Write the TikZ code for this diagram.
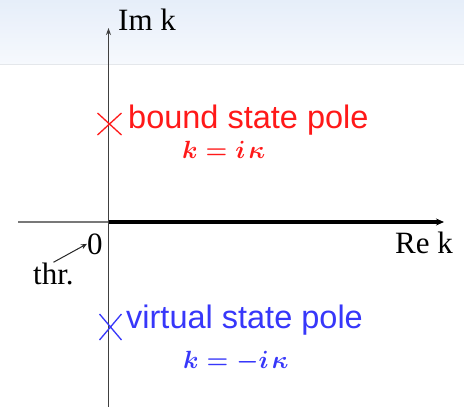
\documentclass[tikz,border=0pt]{standalone}
\usepackage{fontspec}
\setmainfont{Liberation Serif}
\newfontfamily\arialfont{Liberation Sans}
\usetikzlibrary{arrows.meta,calc}
\definecolor{redpole}{RGB}{255,25,25}
\definecolor{bluepole}{RGB}{55,55,250}
\definecolor{bgtop}{RGB}{230,238,249}
\definecolor{bgbot}{RGB}{246,249,253}
\definecolor{axgray}{RGB}{120,120,120}
\tikzset{
  lbl/.style={inner sep=0pt, anchor=base west, font=\fontsize{31}{36}\selectfont},
  poletext/.style={inner sep=0pt, anchor=base west, font=\arialfont\fontsize{32.5}{38}\selectfont},
  polemath/.style={inner sep=0pt, anchor=base west, font=\fontsize{31.5}{36}\selectfont\boldmath},
  cross/.style={line width=1.3pt},
}
\begin{document}
\begin{tikzpicture}[x=1pt,y=-1pt]
\useasboundingbox (0,0) rectangle (464,407);
\fill[white] (0,0) rectangle (464,407);
\shade[top color=bgtop, bottom color=bgbot] (0,0) rectangle (464,64);
\draw[color={rgb,255:red,228;green,231;blue,235}, line width=0.8pt] (0,64) -- (464,64);

\coordinate (O) at (108.5,222);
\coordinate (top) at (108.5,28);
\coordinate (bot) at (108.5,407);
\coordinate (left) at (18,222);
\coordinate (right) at (444,222);

% axes
\draw[axgray, line width=1.8pt] (left) -- (O);
\draw[black!75, line width=1.5pt, -{Stealth[length=7pt,width=5pt]}] (bot) -- (top);
\draw[black, line width=3.4pt, -{Stealth[length=8pt,width=7pt]}] (O) -- (right);

% labels
\node[lbl] (imk) at (118,30) {Im k};
\node[lbl] (rek) at (395,253) {Re k};
\node[lbl] (zero) at (87,254) {0};
\node[lbl] (thr) at (33,284) {thr.};
\draw[black!85, line width=1pt, -{Stealth[length=6pt,width=5pt]}] (thr.north) -- (zero.west);

% bound state pole
\coordinate (bs) at (109.5,124);
\draw[redpole, cross] ($(bs)+(-12,-11)$) -- ($(bs)+(12,11)$)
  ($(bs)+(-12,11)$) -- ($(bs)+(12,-11)$);
\node[poletext, text=redpole] (bst) at (128,128) {bound state pole};
\node[polemath, text=redpole] (bsm) at (182,158) {$k=i\mkern2mu\kappa$};

% virtual state pole
\coordinate (vs) at (110.5,327);
\draw[bluepole, cross] ($(vs)+(-11,-13)$) -- ($(vs)+(11,13)$)
  ($(vs)+(-11,13)$) -- ($(vs)+(11,-13)$);
\node[poletext, text=bluepole] (vst) at (126,328) {virtual state pole};
\node[polemath, text=bluepole] (vsm) at (183,368) {$k=-i\mkern2mu\kappa$};
\end{tikzpicture}
\end{document}
